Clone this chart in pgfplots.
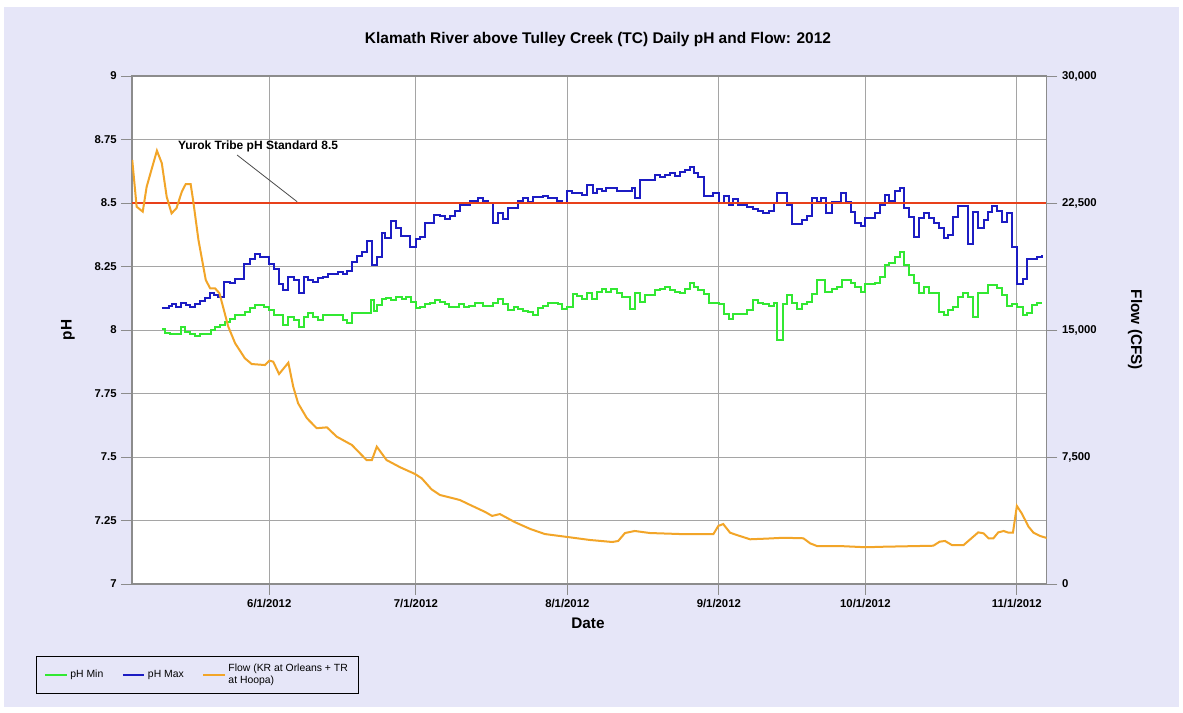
\documentclass[border=0pt]{standalone}
\usepackage{fontspec}
\setmainfont{Liberation Sans}
\usepackage{pgfplots}
\pgfplotsset{compat=1.18}

\definecolor{bgcol}{RGB}{230,230,248}
\definecolor{phmin}{RGB}{50,232,50}
\definecolor{phmax}{RGB}{28,28,195}
\definecolor{flowc}{RGB}{242,165,40}
\definecolor{stdred}{RGB}{232,64,26}
\definecolor{gridc}{RGB}{165,165,165}
\definecolor{framec}{RGB}{140,140,140}

% x = day of year 2012 (6/1 = 153)
\pgfplotstableread{
day ph
131 8.004
131.7 7.989
132.7 7.983
134.9 8.011
135.8 7.993
136.7 7.984
137.8 7.978
138.8 7.984
141 8.000
141.9 8.013
142.9 8.020
144 8.033
145 8.042
146 8.059
148 8.072
149 8.085
150 8.098
152 8.092
153 8.079
154 8.059
155.9 8.020
156.9 8.050
158 8.039
159 8.011
160 8.050
161 8.066
162 8.052
163 8.039
164 8.059
168 8.039
169 8.029
170 8.068
173.9 8.118
174.5 8.075
175 8.098
176 8.121
176.9 8.125
178 8.118
178.9 8.129
180.1 8.121
181 8.129
181.9 8.112
183 8.085
183.8 8.092
184.9 8.102
185.9 8.108
186.9 8.118
187.9 8.112
189 8.102
189.8 8.092
191.9 8.102
192.9 8.092
193.9 8.094
195 8.108
196.8 8.094
198.8 8.105
199.9 8.121
200.9 8.102
201.9 8.079
203 8.089
204 8.081
205 8.076
206 8.070
207 8.059
208 8.085
209 8.094
210.1 8.105
212 8.102
213 8.081
214 8.092
215.1 8.142
215.9 8.134
216.9 8.121
218 8.144
219 8.121
220 8.151
221 8.160
222 8.151
223 8.160
224.1 8.147
225.1 8.131
226.8 8.081
227.9 8.144
228.9 8.112
229.9 8.138
232 8.157
233 8.160
234 8.168
235 8.157
236 8.151
237 8.147
238 8.160
239 8.186
240 8.171
240.8 8.157
242 8.142
243 8.108
245 8.102
246 8.063
247 8.042
248 8.063
250.7 8.079
252 8.118
253 8.108
254 8.102
255.2 8.094
256.2 8.105
257 7.961
258.1 8.102
258.9 8.138
260 8.105
261 8.081
262 8.102
263 8.112
264 8.140
265 8.197
266.8 8.151
268.1 8.160
269.1 8.168
270.2 8.197
272 8.184
272.9 8.171
274 8.151
275 8.180
277 8.186
278 8.210
279 8.256
279.9 8.265
281 8.289
282 8.308
283 8.256
284 8.217
285 8.184
286 8.147
287 8.168
288 8.147
290 8.072
291 8.059
292 8.079
293 8.089
294 8.129
295 8.147
296 8.129
297 8.050
298 8.147
300 8.177
301.9 8.164
303 8.138
304 8.094
305 8.102
306.1 8.089
307.2 8.059
308 8.068
309 8.098
310.1 8.105
311.1 8.105
}\phmintable

\pgfplotstableread{
day ph
131 8.085
132.4 8.094
133 8.102
134 8.092
135 8.108
136 8.098
136.8 8.089
137.8 8.102
138.8 8.115
139.9 8.125
140.8 8.144
141.6 8.138
142.6 8.129
143.8 8.188
145 8.184
146 8.200
147.9 8.260
149 8.278
150 8.299
151 8.289
153 8.260
154 8.239
154.9 8.181
155.9 8.157
156.9 8.207
158 8.197
159 8.147
160 8.210
161 8.197
162 8.190
163 8.203
164 8.210
165 8.219
167 8.230
168 8.220
169 8.234
170 8.269
171 8.291
172 8.308
173 8.350
174 8.256
175 8.289
176 8.381
176.7 8.361
178 8.430
178.9 8.400
180 8.370
181.8 8.328
183 8.358
183.8 8.367
184.9 8.420
186.7 8.453
188 8.449
189 8.436
190 8.449
191 8.470
192 8.492
194 8.509
195.8 8.518
196.8 8.509
197.8 8.499
198.8 8.420
199.9 8.459
200.8 8.436
201.9 8.479
204 8.509
205 8.518
206 8.505
207 8.522
209 8.529
210 8.518
211.8 8.509
213 8.501
214 8.549
215 8.538
217 8.531
218 8.571
219.2 8.541
220 8.554
221 8.549
222 8.558
224.1 8.549
227.2 8.558
227.9 8.518
228.9 8.591
232 8.610
233 8.601
234 8.610
235 8.617
236 8.606
237 8.623
238 8.630
239 8.640
240 8.619
240.8 8.601
242 8.528
243.9 8.541
245 8.501
246 8.528
247 8.492
248 8.514
249 8.492
250.7 8.486
252 8.475
253 8.469
254 8.459
255.2 8.469
256.2 8.499
257 8.538
258.9 8.492
260 8.417
262 8.433
263 8.449
264 8.518
265 8.505
266 8.518
267 8.459
268.1 8.503
270 8.538
271 8.503
272 8.466
272.9 8.420
274 8.409
275 8.440
277 8.459
278 8.492
279 8.531
279.9 8.509
281 8.549
282 8.560
283 8.479
284 8.446
285 8.367
286 8.440
287 8.459
288 8.440
289 8.420
290 8.400
291 8.361
292 8.374
293 8.446
294 8.489
296 8.339
297 8.466
298 8.400
299.2 8.433
300 8.466
301 8.489
302 8.470
303 8.426
304 8.459
305 8.328
306.1 8.180
307.2 8.200
308 8.278
310.1 8.289
311.1 8.295
}\phmaxtable

\pgfplotstableread{
day flow
124.95 25040
125.85 22280
127.1 21990
127.9 23460
130 25590
131 24850
132 22870
133 21890
134 22190
135.1 23170
135.9 23620
136.9 23620
137.4 22680
138.5 20320
140 17950
140.9 17460
141.9 17460
142.8 17170
144.6 15200
146 14220
148 13330
149.4 12990
152.1 12930
153 13190
153.8 13130
155 12400
156.9 13070
157.9 11650
158.9 10670
160.7 9790
162.7 9200
164.8 9250
166.8 8700
169.9 8210
172.9 7320
174 7320
175 8110
177 7320
179.8 6890
182.8 6500
184.2 6240
186.2 5590
187.9 5260
192 4960
194.1 4670
197.2 4250
198.6 4020
200.2 4130
203.2 3660
206.4 3250
209.4 2950
213.9 2780
218.6 2600
223.2 2480
224.4 2540
225.8 3010
227.8 3130
230.9 3010
237.1 2950
242.2 2950
243.9 2950
244.9 3430
245.9 3540
247.3 3030
248.7 2890
251.4 2640
254.8 2680
258.2 2730
262.3 2700
263.7 2400
265.1 2240
269.8 2240
275.1 2170
278.7 2200
288.9 2260
290.2 2500
291.3 2540
292.7 2300
295.1 2300
298.1 3050
299.2 2990
300.2 2700
301.2 2700
302.2 3050
303.3 3130
304.3 3030
305.2 3030
306 4610
307 4170
308.4 3380
309.4 3030
310.8 2830
312.1 2720
}\flowtable

\pgfplotsset{
  common/.style={
    at={(99pt,96.75pt)}, anchor=south west,
    scale only axis, width=686pt, height=381pt,
    xmin=124.9, xmax=312.1,
    tick align=outside, major tick length=8pt,
    tick style={framec, line width=0.6pt},
    axis line style={framec, line width=0.8pt},
    /pgf/number format/assume math mode=true,
    tick label style={font=\bfseries\fontsize{8.5}{10}\selectfont},
  }
}

\begin{document}
\begin{tikzpicture}[x=0.75pt,y=0.75pt]
\fill[white] (0,0) rectangle (1183,713);
\fill[bgcol] (4,6) rectangle (1179,706);

\node[font=\bfseries\fontsize{11.6}{13}\selectfont] at (598,673)
  {Klamath River above Tulley Creek (TC) Daily pH and Flow: 2012};
\node[font=\bfseries\fontsize{11.5}{13}\selectfont, rotate=90] at (68,383) {pH};
\node[font=\bfseries\fontsize{11.5}{13}\selectfont, rotate=-90] at (1135,383) {Flow (CFS)};
\node[font=\bfseries\fontsize{11.5}{13}\selectfont] at (588,90) {Date};

\begin{axis}[common,
  axis background/.style={fill=white},
  ymin=7, ymax=9,
  ytick={7,7.25,...,9},
  yticklabels={7,7.25,7.5,7.75,8,8.25,8.5,8.75,9},
  xtick={153,183,214,245,275,306},
  xticklabels={6/1/2012,7/1/2012,8/1/2012,9/1/2012,10/1/2012,11/1/2012},
  xtick pos=bottom, ytick pos=left,
  grid=major,
  major grid style={gridc, line width=0.7pt},
  clip=false,
]
\addplot[const plot mark left, phmin, line width=1.5pt] table[x=day,y=ph] {\phmintable};
\addplot[const plot mark left, phmax, line width=1.5pt] table[x=day,y=ph] {\phmaxtable};
\addplot[stdred, line width=1.5pt] coordinates {(124.9,8.5) (312.1,8.5)};
\draw[black!70, line width=0.6pt] (axis cs:146.4,8.689) -- (axis cs:158.7,8.505);
\node[font=\bfseries\fontsize{9}{10}\selectfont] at (axis cs:150.7,8.724) {Yurok Tribe pH Standard 8.5};
\end{axis}

\begin{axis}[common,
  ymin=0, ymax=30000,
  ytick={0,7500,...,30000},
  scaled y ticks=false,
  /pgf/number format/1000 sep={,},
  axis y line*=right, axis x line=none,
  legend style={at={(-0.105,-0.1417)}, anchor=north west,
    fill=bgcol, draw=black, line width=0.6pt,
    font=\fontsize{7.8}{8.5}\selectfont,
    legend columns=3,
    /tikz/every even column/.append style={column sep=12pt},
    cells={anchor=west, align=left},
    inner xsep=6pt, inner ysep=4pt},
  legend image code/.code={\draw[#1] (0pt,0pt) -- (16pt,0pt);},
]
\addlegendimage{phmin, line width=1.5pt}
\addlegendentry{pH Min}
\addlegendimage{phmax, line width=1.5pt}
\addlegendentry{pH Max}
\addplot[flowc, line width=1.5pt] table[x=day,y=flow] {\flowtable};
\addlegendentry{Flow (KR at Orleans + TR\\at Hoopa)}
\end{axis}
\end{tikzpicture}
\end{document}
